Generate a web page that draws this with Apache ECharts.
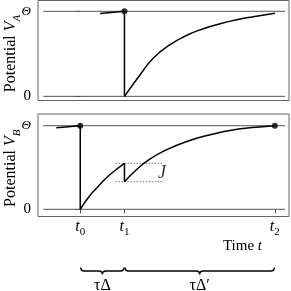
<!DOCTYPE html>
<html><head><meta charset="utf-8">
<script src="https://cdn.jsdelivr.net/npm/echarts@6/dist/echarts.min.js"></script>
<style>html,body{margin:0;padding:0;background:#fff}#c{width:291px;height:291px}</style>
</head><body><div id="c"></div>
<script>
// ---- data ----
const xTicks = [0, 1, 4.40];             // t0, t1, t2
const xTickNames = ['0', '1', '2'];       // subscripts
const yTicks = [0, 1];                    // 0, Theta
const refLineX = [-0.835, 4.63];

// panel A
const preA = [[0.45, 0.973], [1, 1]];
const dropA = [[1, 1], [1, 0]];
const riseA = [[1, 0], [1.354, 0.254], [1.655, 0.451], [2.032, 0.607], [2.409, 0.718], [2.783, 0.795],
               [3.16, 0.854], [3.537, 0.901], [3.912, 0.936], [4.40, 0.976]];
const spikeA = [[1, 1]];

// panel B
const preB = [[-0.54, 0.976], [0, 1]];
const dropB = [[0, 1], [0, 0]];
const rise1B = [[0, 0], [0.21, 0.159], [0.436, 0.291], [0.661, 0.41], [1, 0.55]];
const jumpB = [[1, 0.55], [1, 0.33]];
const rise2B = [[1, 0.33], [1.264, 0.47], [1.564, 0.598], [1.941, 0.709], [2.393, 0.809], [2.919, 0.889],
                [3.447, 0.949], [3.973, 0.981], [4.40, 1]];
const spikeB = [[0, 1], [4.40, 1]];
const jUpper = [[0.797, 0.55], [1.851, 0.55]];
const jLower = [[0.797, 0.33], [1.851, 0.33]];
const jLabel = [[1.846, 0.43]];

// braces
const braces = [[0, 1, '{a|τΔ}'], [1, 4.40, '{a|τΔ′}']];

const FONT = "'Liberation Serif', 'Times New Roman', serif";
const XMIN = -0.955, XMAX = 4.72;

function refLines(xi, yi) {
  return yTicks.map(v => ({
    type: 'line', xAxisIndex: xi, yAxisIndex: yi, silent: true, symbol: 'none',
    data: [[refLineX[0], v], [refLineX[1], v]],
    lineStyle: {color: '#555', width: 1}, z: 1
  }));
}
function seg(xi, yi, data, smooth) {
  return {type: 'line', xAxisIndex: xi, yAxisIndex: yi, data: data, symbol: 'none',
    smooth: smooth ? 0.5 : false,
    lineStyle: {color: '#000', width: 1.5}, z: 3};
}
function dots(xi, yi, data) {
  return {type: 'scatter', xAxisIndex: xi, yAxisIndex: yi, data: data, symbolSize: 6,
    itemStyle: {color: '#000'}, z: 4};
}
function yAxis(gi, min, max, sub) {
  return {
    type: 'value', gridIndex: gi, min: min, max: max,
    axisLine: {show: false}, splitLine: {show: false},
    axisTick: {show: true, customValues: yTicks, length: 5, lineStyle: {color: '#555'}},
    axisLabel: {show: true, customValues: yTicks, margin: 7, color: '#000', fontFamily: FONT,
      formatter: v => v === 1 ? '{th|Θ}' : '{z|0}',
      rich: {th: {fontFamily: FONT, fontStyle: 'italic', fontSize: 13, color: '#000'},
             z: {fontFamily: FONT, fontSize: 15, color: '#000'}}},
    name: '{p|Potential }{v|V}{s|' + sub + '}', nameLocation: 'middle', nameGap: 17, nameRotate: 90,
    nameMoveOverlap: false,
    nameTextStyle: {padding: [0, 6, 0, 0], rich: {
      p: {fontFamily: FONT, fontSize: 16, color: '#000', lineHeight: 18, verticalAlign: 'top'},
      v: {fontFamily: FONT, fontSize: 16, fontStyle: 'italic', color: '#000', lineHeight: 18, verticalAlign: 'top'},
      s: {fontFamily: FONT, fontSize: 11, fontStyle: 'italic', color: '#000', lineHeight: 11, padding: [9, 0, 0, 0], verticalAlign: 'top'}
    }}
  };
}
const gridBase = {left: 38, right: 2, containLabel: false, outerBoundsMode: 'none'};

const chart = echarts.init(document.getElementById('c'), null, {renderer: 'canvas'});
chart.setOption({
  animation: false,
  grid: [
    Object.assign({}, gridBase, {top: 0.5, height: 100, show: true, borderColor: '#666', borderWidth: 1, backgroundColor: 'transparent'}),
    Object.assign({}, gridBase, {top: 114, height: 102.5, show: true, borderColor: '#666', borderWidth: 1, backgroundColor: 'transparent'}),
    Object.assign({}, gridBase, {top: 266, height: 10, show: false})
  ],
  xAxis: [
    {type: 'value', gridIndex: 0, min: XMIN, max: XMAX, show: false},
    {type: 'value', gridIndex: 1, min: XMIN, max: XMAX, splitLine: {show: false}, axisLine: {show: false},
      axisTick: {show: true, customValues: xTicks, length: 4, lineStyle: {color: '#444'}},
      axisLabel: {show: true, customValues: xTicks, margin: 2,
        formatter: v => { const i = xTicks.indexOf(v); return '{t|t}{s|' + xTickNames[i] + '}'; },
        rich: {t: {fontFamily: FONT, fontStyle: 'italic', fontSize: 16, color: '#000', lineHeight: 16, verticalAlign: 'top'},
               s: {fontFamily: FONT, fontSize: 11, color: '#000', lineHeight: 11, padding: [8, 0, 0, 0], verticalAlign: 'top'}}}},
    {type: 'value', gridIndex: 2, min: XMIN, max: XMAX, show: false}
  ],
  yAxis: [
    yAxis(0, -0.049, 1.127, 'A'),
    yAxis(1, -0.086, 1.14, 'B'),
    {type: 'value', gridIndex: 2, min: 0, max: 1, show: false}
  ],
  series: [
    ...refLines(0, 0),
    ...refLines(1, 1),
    seg(0, 0, preA, false), seg(0, 0, dropA, false), seg(0, 0, riseA, true), dots(0, 0, spikeA),
    seg(1, 1, preB, false), seg(1, 1, dropB, false), seg(1, 1, rise1B, true), seg(1, 1, jumpB, false),
    seg(1, 1, rise2B, true), dots(1, 1, spikeB),
    {type: 'line', xAxisIndex: 1, yAxisIndex: 1, data: jUpper, symbol: 'none', lineStyle: {color: '#777', width: 1, type: [1.5, 1.5]}, z: 2},
    {type: 'line', xAxisIndex: 1, yAxisIndex: 1, data: jLower, symbol: 'none', lineStyle: {color: '#777', width: 1, type: [1.5, 1.5]}, z: 2},
    {type: 'scatter', xAxisIndex: 1, yAxisIndex: 1, data: jLabel, symbolSize: 0, silent: true,
      label: {show: true, position: 'inside', formatter: 'J', fontFamily: FONT, fontStyle: 'italic', fontSize: 18, color: '#000'}},
    {type: 'custom', xAxisIndex: 2, yAxisIndex: 2, data: braces, silent: true,
      renderItem: function (params, api) {
        const a = api.coord([api.value(0), 0.5]);
        const b = api.coord([api.value(1), 0.5]);
        const x0 = a[0] + 0.5, x1 = b[0] - 0.5, y = a[1], m = (x0 + x1) / 2, h = 3.5;
        const d = 'M' + x0 + ' ' + (y - h) + ' Q' + x0 + ' ' + y + ' ' + (x0 + h) + ' ' + y +
          ' L' + (m - h) + ' ' + y + ' Q' + m + ' ' + y + ' ' + m + ' ' + (y + h) +
          ' Q' + m + ' ' + y + ' ' + (m + h) + ' ' + y +
          ' L' + (x1 - h) + ' ' + y + ' Q' + x1 + ' ' + y + ' ' + x1 + ' ' + (y - h);
        return {type: 'group', children: [
          {type: 'path', shape: {pathData: d}, style: {stroke: '#000', fill: null, lineWidth: 1.4}},
          {type: 'text', style: {x: m, y: y + 15, text: braces[params.dataIndex][2], align: 'center', verticalAlign: 'middle',
            rich: {a: {fontFamily: FONT, fontSize: 16, color: '#000'}}}}
        ]};
      }}
  ],
  graphic: [
    {type: 'text', x: 262, y: 246, style: {text: '{a|Time }{b|t}', align: 'right', verticalAlign: 'middle',
      rich: {a: {fontFamily: FONT, fontSize: 15, color: '#000'}, b: {fontFamily: FONT, fontStyle: 'italic', fontSize: 15, color: '#000'}}}}
  ]
});
</script></body></html>
